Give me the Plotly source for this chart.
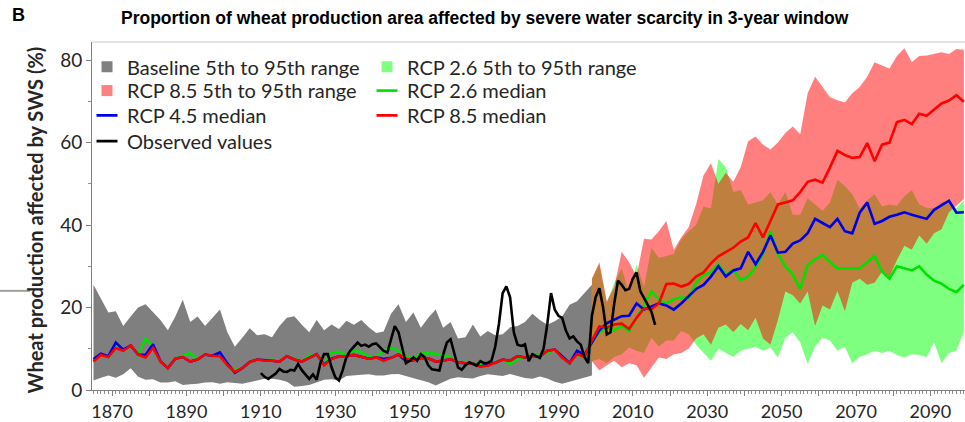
import plotly.graph_objects as go

# ---------------- data ----------------
YEARS_BASE = list(range(1865, 2000, 2))          # 1865 .. 1999
BASE_UPPER = [25.5, 22.3, 18.8, 19.1, 15.5, 17.8, 20.0, 20.8, 19.0, 17.0,
              14.5, 17.8, 21.9, 16.5, 17.8, 15.5, 17.5, 19.5, 14.0, 10.5,
              12.7, 15.0, 13.3, 13.5, 12.8, 15.5, 17.5, 17.9, 15.8, 14.0,
              17.0, 14.5, 15.9, 14.8, 16.8, 15.8, 17.0, 15.2, 13.8, 14.2,
              18.5, 20.8, 16.5, 18.8, 15.1, 17.5, 19.5, 15.1, 16.5, 12.5,
              12.8, 15.9, 13.0, 14.3, 13.3, 13.5, 15.2, 15.5, 16.5, 18.5,
              17.0, 15.8, 16.7, 17.8, 20.7, 21.5, 23.5, 25.5]
BASE_LOWER = [2.3, 3.0, 3.5, 3.0, 3.8, 5.3, 3.2, 2.5, 2.6, 1.8,
              1.8, 2.1, 1.2, 1.4, 1.5, 1.8, 1.9, 1.5, 1.9, 1.7,
              1.5, 1.9, 2.3, 2.7, 2.7, 2.5, 2.0, 0.8, 1.0, 1.2,
              1.8, 2.5, 2.6, 2.3, 3.4, 3.5, 3.7, 3.8, 3.5, 3.5,
              3.8, 3.9, 3.5, 3.0, 2.4, 1.9, 1.1, 1.9, 2.7, 3.1,
              2.9, 2.8, 3.4, 3.8, 3.6, 3.4, 3.9, 3.4, 2.9, 2.7,
              3.3, 2.8, 2.0, 1.5, 2.0, 2.5, 3.0, 3.5]

YEARS_MED = list(range(1865, 2100, 2))           # 1865 .. 2099
RCP26_MED = [7.2, 8.5, 8.0, 10.5, 9.5, 10.8, 8.6, 12.5, 10.5, 7.0,
             5.3, 7.6, 8.3, 9.0, 7.4, 8.6, 8.3, 8.2, 6.0, 4.8,
             5.3, 6.8, 7.4, 7.1, 7.3, 7.0, 8.2, 7.6, 7.0, 8.3,
             8.7, 6.5, 9.0, 9.3, 8.4, 9.5, 9.2, 8.0, 8.2, 9.5,
             10.3, 9.5, 8.2, 7.6, 8.8, 9.0, 8.8, 8.5, 8.0, 6.7,
             6.8, 6.6, 6.0, 6.2, 6.6, 7.4, 6.3, 7.5, 7.9, 8.2,
             8.5, 9.0, 9.8, 7.8, 6.5, 8.5, 8.0,
             11.5, 14.0, 15.0, 14.5, 15.5, 14.3, 17.5, 20.5, 23.9, 22.0,
             21.0, 22.0, 22.5, 22.3, 26.0, 27.9, 28.5, 30.5, 28.0, 29.1,
             26.7, 27.5, 29.8, 33.0, 38.5, 33.0, 30.0, 28.0, 24.5, 30.3,
             31.7, 32.8, 31.0, 29.5, 29.5, 29.5, 29.5, 31.0, 32.5, 28.7,
             27.0, 30.0, 29.5, 29.0, 30.0, 28.0, 26.5, 25.8, 24.5, 23.7,
             25.5]
RCP45_MED = [7.5, 8.8, 8.2, 11.5, 9.8, 10.8, 8.6, 8.5, 11.1, 7.0,
             5.3, 7.6, 8.0, 6.9, 7.4, 8.6, 8.3, 9.1, 6.5, 4.2,
             5.3, 6.8, 7.4, 7.3, 7.1, 6.9, 8.2, 7.4, 6.9, 7.8,
             8.7, 6.2, 7.6, 8.2, 8.2, 8.5, 8.0, 7.6, 7.9, 7.5,
             7.8, 8.6, 7.0, 7.2, 7.7, 7.7, 6.9, 7.1, 7.5, 6.7,
             6.5, 6.4, 5.7, 6.2, 6.6, 7.4, 7.1, 8.2, 7.9, 8.2,
             8.2, 9.5, 9.8, 8.2, 6.5, 9.5, 8.5,
             11.5, 14.5, 16.2, 17.0, 17.9, 18.0, 21.0, 19.5, 20.3, 21.0,
             20.5, 19.5, 21.0, 22.8, 24.5, 25.5, 27.5, 30.0, 27.5, 29.0,
             29.5, 33.5, 30.5, 33.5, 37.5, 33.3, 33.5, 35.5, 36.3, 38.0,
             41.5, 40.5, 39.5, 41.5, 38.5, 38.0, 43.0, 45.5, 40.3, 41.0,
             42.0, 42.5, 43.1, 42.5, 42.0, 41.5, 43.7, 44.7, 45.9, 43.0,
             43.1]
RCP85_MED = [6.9, 8.5, 8.0, 10.2, 9.5, 10.8, 8.6, 7.9, 10.2, 7.0,
             5.3, 7.6, 8.0, 6.9, 7.4, 8.6, 8.3, 8.2, 6.0, 4.4,
             5.3, 6.8, 7.4, 7.1, 7.1, 6.9, 8.2, 7.4, 6.9, 7.8,
             8.7, 6.0, 7.5, 8.2, 8.2, 8.5, 8.0, 7.6, 7.9, 7.1,
             7.8, 8.6, 7.6, 7.2, 7.7, 7.7, 6.9, 7.1, 7.5, 6.7,
             6.5, 6.4, 5.7, 5.9, 6.6, 7.4, 7.1, 8.2, 7.9, 8.2,
             8.2, 9.5, 9.8, 7.8, 6.5, 8.7, 8.0,
             12.0, 15.4, 15.1, 15.9, 16.1, 14.8, 17.5, 19.8, 19.6, 21.0,
             25.7, 25.8, 25.1, 25.7, 27.5, 28.5, 30.7, 32.4, 33.5, 34.5,
             36.0, 37.0, 40.5, 37.0, 41.0, 45.0, 45.5, 46.0, 48.0, 50.5,
             51.0, 50.3, 54.0, 58.0, 57.0, 56.3, 56.5, 59.9, 55.5, 59.5,
             60.0, 65.0, 65.5, 64.5, 67.0, 66.5, 68.0, 69.5, 70.2, 71.5,
             69.9]

YEARS_RCP = list(range(1999, 2100, 2))           # 1999 .. 2099
RCP26_UPPER = [27.0, 30.5, 21.0, 26.0, 29.5, 23.5, 30.5, 25.0, 34.5, 32.0,
               32.5, 33.0, 36.5, 38.5, 40.0, 44.5, 44.0, 56.0, 54.0, 48.0,
               48.5, 45.0, 45.5, 46.0, 48.0, 45.0, 48.0, 42.5, 42.5, 46.5,
               45.0, 43.5, 45.5, 51.0, 49.5, 47.5, 44.0, 46.0, 47.5, 44.5,
               45.0, 44.7, 47.0, 48.5, 45.0, 44.2, 44.0, 45.5, 46.0, 44.0,
               46.0]
RCP26_LOWER = [7.0, 7.5, 6.5, 8.0, 8.7, 10.3, 9.5, 9.0, 12.7, 10.5,
               12.0, 12.0, 14.3, 13.5, 11.0, 9.0, 7.1, 10.0, 9.0, 8.0,
               9.5, 10.0, 10.5, 9.5, 10.3, 7.9, 12.7, 14.0, 11.5, 6.3,
               10.5, 12.7, 12.0, 9.5, 10.5, 6.5, 8.0, 8.7, 9.5, 9.0,
               9.5, 8.5, 7.9, 8.7, 8.5, 8.0, 11.5, 6.5, 9.0, 9.5,
               14.3]
RCP85_UPPER = [27.0, 31.0, 21.5, 25.0, 33.5, 31.0, 27.5, 36.7, 36.5, 38.5,
               41.0, 34.0, 37.0, 39.5, 45.0, 52.0, 55.0, 50.0, 52.7, 50.5,
               54.0, 60.3, 61.5, 59.5, 58.3, 60.0, 62.3, 63.9, 62.0, 72.0,
               76.0, 73.5, 71.0, 70.3, 69.7, 72.0, 73.5, 76.0, 79.5, 78.7,
               78.0, 81.0, 82.9, 79.5, 81.0, 81.1, 81.5, 81.9, 81.5, 82.7,
               82.5]
RCP85_LOWER = [7.0, 4.7, 6.0, 7.1, 5.5, 6.5, 6.0, 3.0, 5.5, 7.9,
               7.5, 8.7, 9.0, 10.0, 12.5, 13.5, 11.0, 15.1, 15.9, 14.0,
               16.0, 14.5, 17.5, 12.5, 11.0, 17.0, 23.9, 23.0, 21.0, 23.9,
               15.5, 20.5, 19.5, 24.0, 19.1, 26.0, 27.0, 25.5, 26.0, 28.7,
               27.5, 31.5, 35.0, 34.0, 37.5, 35.5, 38.0, 39.0, 43.1, 44.7,
               46.3]

YEARS_OBS = list(range(1910, 2017))              # 1910 .. 2016
OBSERVED = [4.1, 3.2, 2.7, 3.3, 4.0, 5.1, 4.5, 4.4, 4.9, 4.7,
            6.3, 4.8, 3.6, 2.7, 3.8, 2.5, 6.5, 8.7, 8.7, 5.5,
            3.1, 2.3, 4.8, 8.0, 9.5, 10.5, 11.5, 10.7, 11.0, 10.5,
            11.1, 11.3, 10.5, 9.5, 9.1, 12.0, 15.5, 14.0, 10.5, 6.5,
            7.1, 7.9, 7.1, 8.7, 8.0, 6.0, 5.0, 4.8, 4.7, 8.5,
            11.5, 12.3, 9.0, 5.5, 4.9, 6.0, 6.7, 6.3, 5.9, 7.0,
            6.5, 6.6, 7.1, 10.5, 16.0, 23.5, 25.1, 22.5, 14.0, 11.0,
            10.7, 11.1, 7.0, 8.7, 8.3, 7.8, 10.0, 15.9, 23.5, 19.5,
            18.0, 17.5, 14.4, 12.5, 13.0, 11.8, 11.0, 8.0, 6.5, 18.0,
            22.5, 24.7, 20.0, 13.5, 14.0, 21.0, 26.5, 25.5, 24.2, 24.5,
            27.0, 28.5, 24.0, 22.3, 20.5, 19.0, 15.8]

X_TICKS = list(range(1870, 2100, 10))
X_TICK_LABELS = [str(v) if (v - 1870) % 20 == 0 else "" for v in X_TICKS]
Y_TICKS = [0, 20, 40, 60, 80]

assert len(BASE_UPPER) == len(YEARS_BASE) == len(BASE_LOWER)
assert len(RCP26_MED) == len(YEARS_MED) == len(RCP45_MED) == len(RCP85_MED)
assert len(RCP26_UPPER) == len(YEARS_RCP) == len(RCP26_LOWER) == len(RCP85_UPPER) == len(RCP85_LOWER)
assert len(OBSERVED) == len(YEARS_OBS)

# ---------------- styling ----------------
GRAY_FILL = "rgba(0,0,0,0.5)"
GREEN_FILL = "rgba(0,255,0,0.5)"
RED_FILL = "rgba(255,0,0,0.5)"
GREEN_LINE = "#00E000"
BLUE_LINE = "#0000E6"
RED_LINE = "#FF0000"
BLACK_LINE = "#000000"
FONT = "Lato"
TXT = "#262626"

W, H = 965, 422
ML, MR, MT, MB = 92, 0, 42, 29
PW, PH = W - ML - MR, H - MT - MB


def px_x(px):
    return (px - ML) / PW


def px_y(py):
    return (H - MB - py) / PH


fig = go.Figure()


def band(x, upper, lower, color):
    return go.Scatter(x=list(x) + list(x)[::-1], y=list(upper) + list(lower)[::-1],
                      fill="toself", fillcolor=color, mode="lines",
                      line=dict(width=0), hoverinfo="skip", showlegend=False)


fig.add_trace(band(YEARS_BASE, BASE_UPPER, BASE_LOWER, GRAY_FILL))
fig.add_trace(band(YEARS_RCP, RCP26_UPPER, RCP26_LOWER, GREEN_FILL))
fig.add_trace(band(YEARS_RCP, RCP85_UPPER, RCP85_LOWER, RED_FILL))

for ys, col in [(RCP26_MED, GREEN_LINE), (RCP45_MED, BLUE_LINE), (RCP85_MED, RED_LINE)]:
    fig.add_trace(go.Scatter(x=YEARS_MED, y=ys, mode="lines",
                             line=dict(color=col, width=2.6), showlegend=False))
fig.add_trace(go.Scatter(x=YEARS_OBS, y=OBSERVED, mode="lines",
                         line=dict(color=BLACK_LINE, width=2.6), showlegend=False))

# legend entries: two columns, four rows (one small legend per entry)
COL_TEXT_X = [128, 408]
ROW_Y = [67, 91, 116, 142]
legend_items = [
    ("Baseline 5th to 95th range", "square", "rgb(128,128,128)", 0, 0),
    ("RCP 2.6 5th to 95th range", "square", "rgb(128,255,128)", 1, 0),
    ("RCP 8.5 5th to 95th range", "square", "rgb(255,128,128)", 0, 1),
    ("RCP 2.6 median", "line", GREEN_LINE, 1, 1),
    ("RCP 4.5 median", "line", BLUE_LINE, 0, 2),
    ("RCP 8.5 median", "line", RED_LINE, 1, 2),
    ("Observed values", "line", BLACK_LINE, 0, 3),
]
legend_layouts = {}
for i, (name, kind, col, c, r) in enumerate(legend_items):
    key = "legend" if i == 0 else f"legend{i + 1}"
    if kind == "square":
        mk = dict(symbol="square", size=11, color=col, line=dict(width=0))
    else:
        mk = dict(symbol="line-ew", size=15, color=col, line=dict(color=col, width=2.6))
    fig.add_trace(go.Scatter(x=[None], y=[None], mode="markers", marker=mk,
                             name=name, legend=key, showlegend=True))
    legend_layouts[key] = dict(
        x=px_x(COL_TEXT_X[c] - 41), y=px_y(ROW_Y[r]), xanchor="left", yanchor="middle",
        orientation="v", bgcolor="rgba(0,0,0,0)", borderwidth=0, itemwidth=30,
        font=dict(family=FONT, size=20, color=TXT))

fig.update_layout(
    width=W, height=H,
    margin=dict(l=ML, r=MR, t=MT, b=MB),
    paper_bgcolor="white", plot_bgcolor="white",
    showlegend=True,
    xaxis=dict(range=[1864.6, 2099.3], tickmode="array", tickvals=X_TICKS,
               ticktext=X_TICK_LABELS, ticks="outside", ticklen=5, tickcolor="#808080",
               showline=True, linecolor="#808080", linewidth=1, showgrid=False,
               zeroline=False, tickfont=dict(family=FONT, size=18, color=TXT),
               minor=dict(dtick=1, tick0=1870, ticks="outside", ticklen=3,
                          tickcolor="#909090", showgrid=False)),
    yaxis=dict(range=[0, 84.4], tickmode="array", tickvals=Y_TICKS,
               ticks="outside", ticklen=5, tickcolor="#808080",
               showline=True, linecolor="#808080", linewidth=1, showgrid=False,
               zeroline=False, tickfont=dict(family=FONT, size=19, color=TXT),
               minor=dict(dtick=10, tick0=0, ticks="outside", ticklen=3,
                          tickcolor="#909090", showgrid=False)),
    shapes=[
        dict(type="line", xref="paper", yref="paper", x0=0, x1=1, y0=1, y1=1,
             line=dict(color="#C8C8C8", width=1)),
        dict(type="line", xref="paper", yref="paper", x0=px_x(0), x1=px_x(30),
             y0=px_y(293), y1=px_y(293), line=dict(color="#A0A0A0", width=2)),
    ],
    annotations=[
        dict(text="<b>B</b>", xref="paper", yref="paper", x=px_x(10), y=px_y(15),
             xanchor="left", yanchor="middle", showarrow=False,
             font=dict(family="Liberation Sans", size=18, color="black")),
        dict(text="<b>Proportion of wheat production area affected by severe water scarcity in 3-year window</b>",
             xref="paper", yref="paper", x=px_x(119), y=px_y(18),
             xanchor="left", yanchor="middle", showarrow=False,
             font=dict(family="Liberation Sans", size=17.5, color="black")),
        dict(text="<b>Wheat production affected by SWS (%)</b>", xref="paper", yref="paper",
             x=px_x(35), y=px_y(222), xanchor="center", yanchor="middle",
             textangle=-90, showarrow=False,
             font=dict(family=FONT, size=20, color=TXT)),
    ],
    **legend_layouts,
)

fig.write_html("out.html",
               config={"displayModeBar": False},
               post_script="document.body.style.margin='0';document.body.style.overflow='hidden';")
